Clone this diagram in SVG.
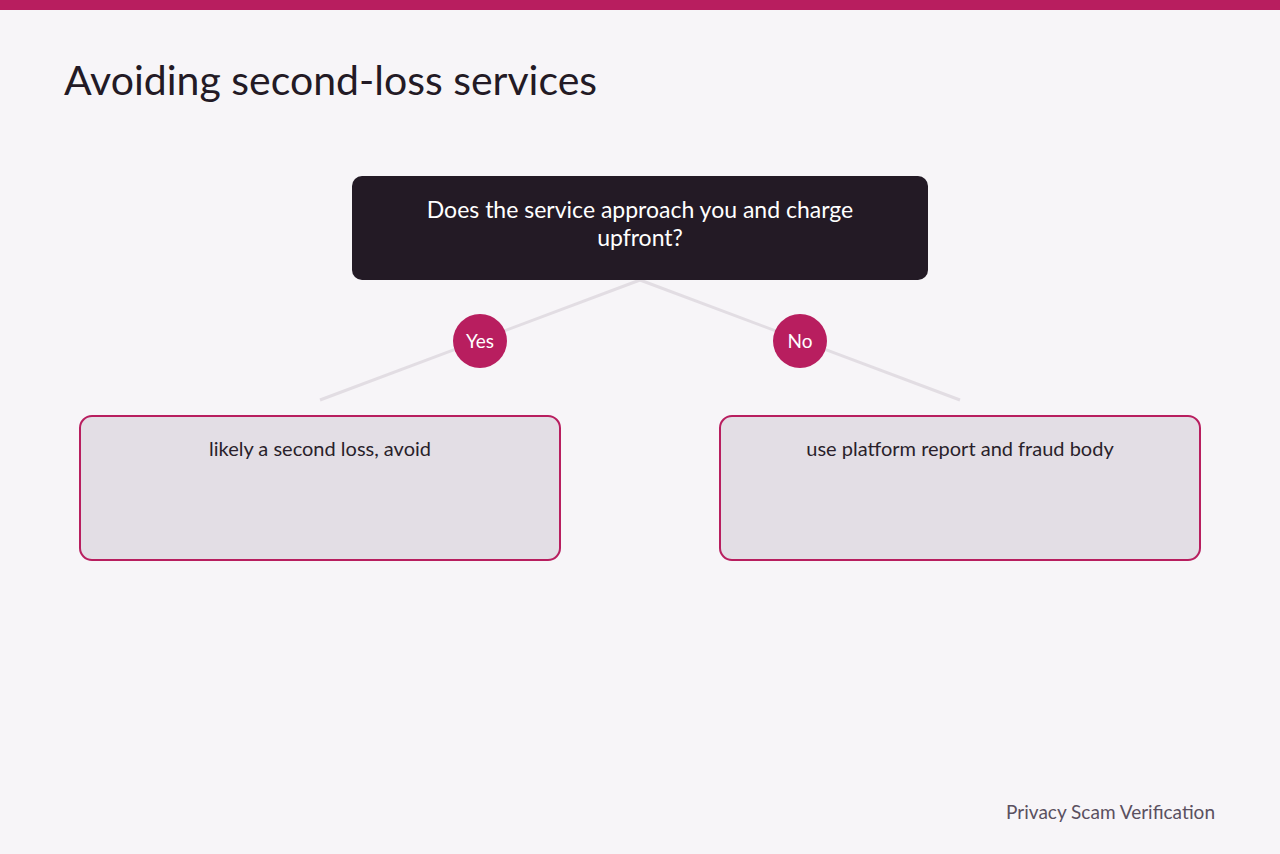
<svg xmlns="http://www.w3.org/2000/svg" width="1280" height="854" viewBox="0 0 1280 854">
<style>
text{font-family:Lato,"Noto Sans",sans-serif}
.leaf{fill:#e3dee5;stroke:#b81e5f;stroke-width:2}
.lbl{fill:#b81e5f}
.lt{fill:#fff;font-size:19px;text-anchor:middle}
.qt{fill:#fff;font-size:23px;text-anchor:middle}
.nt{fill:#2a1f2b;font-size:20px;text-anchor:middle}
</style>
<rect width="1280" height="854" fill="#f7f5f8"/>
<rect width="1280" height="10" fill="#b81e5f"/>
<text x="64" y="95" font-size="41" fill="#231a25">Avoiding second-loss services</text>
<g id="connectors" stroke="#e2dde3" stroke-width="3" fill="none">
<line x1="640" y1="280" x2="320" y2="400"/>
<line x1="640" y1="280" x2="960" y2="400"/>
</g>
<g id="q"><rect x="352" y="176" width="576" height="104" rx="10" fill="#231a25"/>
<text class="qt" x="640" y="218">Does the service approach you and charge</text>
<text class="qt" x="640" y="246">upfront?</text></g>
<g id="yes"><circle cx="480" cy="341" r="27" class="lbl"/><text class="lt" x="480" y="348">Yes</text></g>
<g id="no"><circle cx="800" cy="341" r="27" class="lbl"/><text class="lt" x="800" y="348">No</text></g>
<g id="a"><rect class="leaf" x="80" y="416" width="480" height="144" rx="12"/><text class="nt" x="320" y="456">likely a second loss, avoid</text></g>
<g id="b"><rect class="leaf" x="720" y="416" width="480" height="144" rx="12"/><text class="nt" x="960" y="456">use platform report and fraud body</text></g>
<text x="1215" y="819" font-size="19" fill="#5a5060" text-anchor="end">Privacy Scam Verification</text>
</svg>
